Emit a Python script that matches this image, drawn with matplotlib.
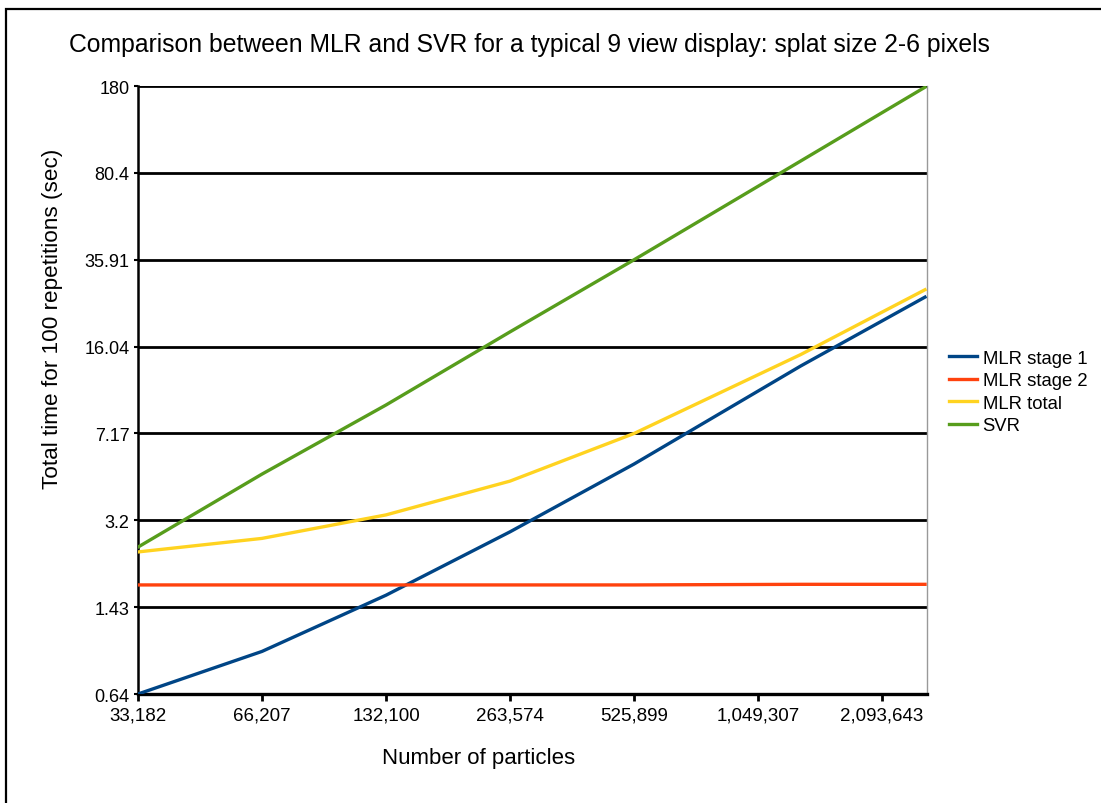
import matplotlib
matplotlib.use("Agg")
import matplotlib.pyplot as plt
from matplotlib.patches import Rectangle
from matplotlib.ticker import FixedLocator, NullLocator

plt.rcParams['font.family'] = ['Liberation Sans', 'DejaVu Sans']

# number of particles for each measurement
particles = [33182, 66207, 132100, 263574, 525899, 1330000, 2660000]

# total time for 100 repetitions (sec)
mlr_stage1 = [0.64, 0.95, 1.60, 2.88, 5.40, 13.4, 25.4]
mlr_stage2 = [1.76, 1.76, 1.76, 1.76, 1.76, 1.77, 1.77]
mlr_total = [2.39, 2.71, 3.37, 4.61, 7.17, 14.9, 27.2]
svr = [2.50, 4.92, 9.34, 18.4, 35.91, 89.7, 178.0]

x_ticks = [33182, 66207, 132100, 263574, 525899, 1049307, 2093643]
x_labels = ["33,182", "66,207", "132,100", "263,574", "525,899", "1,049,307", "2,093,643"]
y_ticks = [0.64, 1.43, 3.2, 7.17, 16.04, 35.91, 80.4, 180]
y_labels = ["0.64", "1.43", "3.2", "7.17", "16.04", "35.91", "80.4", "180"]

series = [
    ("MLR stage 1", mlr_stage1, "#004586"),
    ("MLR stage 2", mlr_stage2, "#ff420e"),
    ("MLR total", mlr_total, "#ffd320"),
    ("SVR", svr, "#579d1c"),
]

W, H = 1101, 804
fig = plt.figure(figsize=(W / 100, H / 100), dpi=100)
fig.patch.set_facecolor("white")

# outer frame (only left and top visible in the reference)
fig.patches.append(Rectangle((6 / W, -0.1), 1.2, 1 - 10 / H + 0.1, transform=fig.transFigure,
                             fill=False, edgecolor="black", linewidth=1.6))

ax = fig.add_axes([138 / W, 1 - 695 / H, (927 - 138) / W, (695 - 87) / H])
ax.set_xscale("log")
ax.set_yscale("log")
ax.set_xlim(33182, 2.69e6)
ax.set_ylim(0.64, 180)

for yv in y_ticks[1:]:
    ax.axhline(yv, color="black", linewidth=2.0, zorder=1)

for name, vals, col in series:
    ax.plot(particles, vals, color=col, linewidth=2.4, label=name, zorder=3,
            solid_joinstyle="round")

ax.xaxis.set_major_locator(FixedLocator(x_ticks))
ax.xaxis.set_minor_locator(NullLocator())
ax.set_xticklabels(x_labels)
ax.yaxis.set_major_locator(FixedLocator(y_ticks))
ax.yaxis.set_minor_locator(NullLocator())
ax.set_yticklabels(y_labels)

ax.tick_params(axis="x", length=5, width=2, direction="out", labelsize=13.5, pad=4)
ax.tick_params(axis="y", length=3, width=1.5, direction="out", labelsize=13, pad=3)

ax.spines["top"].set_visible(False)
ax.spines["left"].set_linewidth(1.8)
ax.spines["bottom"].set_linewidth(2.4)
ax.spines["right"].set_color("#999999")
ax.spines["right"].set_linewidth(1.0)

fig.text(529 / W, 1 - 45 / H, "Comparison between MLR and SVR for a typical 9 view display: splat size 2-6 pixels",
         ha="center", va="center", fontsize=17.8)
fig.text(479 / W, 1 - 759 / H, "Number of particles", ha="center", va="center", fontsize=16)
fig.text(53 / W, 1 - 319 / H, "Total time for 100 repetitions (sec)", ha="center", va="center",
         rotation=90, fontsize=16.2)

fig.legend(loc="center left", bbox_to_anchor=(942 / W, 1 - 393 / H), frameon=False,
           fontsize=13.3, handlelength=1.5, handletextpad=0.3, labelspacing=0.3,
           borderaxespad=0)

fig.savefig("out.png", dpi=100)
